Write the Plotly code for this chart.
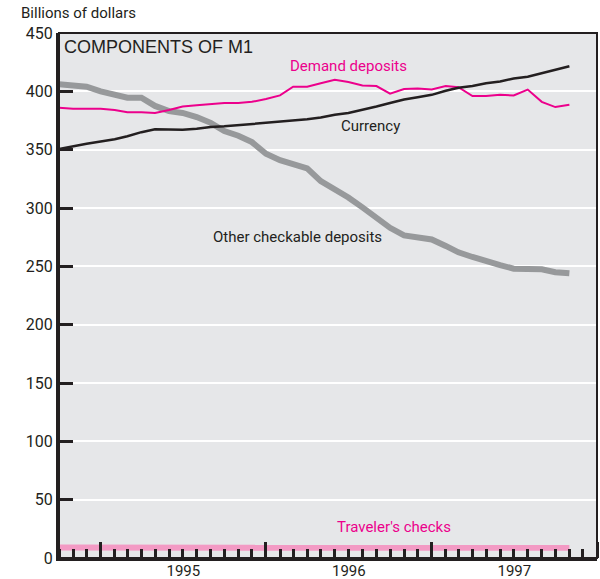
import pandas as pd
import plotly.graph_objects as go

# monthly observations, Oct 1994 .. Nov 1997
months = pd.date_range("1994-10-01", periods=38, freq="MS")

demand_deposits = [386, 385, 385, 385, 384, 382, 382, 381.5, 384, 387, 388, 389, 390, 390,
                   391, 393.5, 396.5, 404, 404, 407, 410, 408, 405, 404.5, 398, 402, 402.5,
                   401.5, 404.5, 403.5, 396, 396, 397, 396.5, 401.5, 391, 386.5, 388.5]
currency = [350.5, 353, 355, 357, 359, 361.5, 365, 367.5, 367, 367, 368, 369.5, 370, 371,
            372, 372.5, 373.5, 375, 376, 377.5, 380, 381.5, 384, 387, 390, 393, 395, 397,
            400.5, 403, 404.5, 407, 408.5, 411, 412.5, 415.5, 418.5, 421.5]
other_checkable = [406, 405, 404, 400, 397, 394.5, 394.5, 387.5, 383, 381.5, 378, 373, 366,
                   362, 356.5, 346.5, 341, 338, 334, 323, 316, 309, 300.5, 292, 283, 276.5,
                   275, 273, 267.5, 262, 258, 254, 251, 248, 248, 247.5, 245, 244]
travelers_checks = [9.0, 9.0, 9.1, 9.1, 9.2, 9.2, 9.2, 9.3, 9.3, 9.3, 9.3, 9.4, 9.4, 9.4,
                    9.4, 9.4, 9.4, 9.4, 9.4, 9.4, 9.4, 9.3, 9.3, 9.3, 9.2, 9.2, 9.1, 9.0,
                    9.0, 8.9, 8.9, 8.8, 8.8, 8.8, 8.7, 8.7, 8.7, 8.7]

NARROW = "Roboto, Liberation Sans, sans-serif"
DARK = "#231f20"
PINK = "#ec008c"

fig = go.Figure()
fig.add_trace(go.Scatter(x=months, y=travelers_checks, mode="lines",
                         line=dict(color="#f39ac4", width=6)))
fig.add_trace(go.Scatter(x=months, y=other_checkable, mode="lines",
                         line=dict(color="#97999b", width=6)))
fig.add_trace(go.Scatter(x=months, y=demand_deposits, mode="lines",
                         line=dict(color=PINK, width=2)))
fig.add_trace(go.Scatter(x=months, y=currency, mode="lines",
                         line=dict(color=DARK, width=2.5)))

labels = [
    ("1996-07-01", 422, "Demand deposits", PINK),
    ("1996-08-18", 370, "Currency", DARK),
    ("1996-03-10", 275, "Other checkable deposits", DARK),
    ("1996-10-10", 26.5, "Traveler's checks", PINK),
]
for x, y, txt, col in labels:
    fig.add_annotation(x=x, y=y, text=txt, showarrow=False,
                       font=dict(family=NARROW, size=15, color=col))

fig.add_annotation(x=-40 / 538, y=1, xref="paper", yref="paper", yshift=31,
                   xanchor="left", yanchor="top", text="Billions of dollars",
                   showarrow=False, font=dict(family=NARROW, size=15, color=DARK))
fig.add_annotation(x=0.006, y=0.997, xref="paper", yref="paper",
                   xanchor="left", yanchor="top", text="COMPONENTS OF M1",
                   showarrow=False,
                   font=dict(family="Liberation Sans, Arial, sans-serif", size=18, color=DARK))

# thinner frame on top / right
fig.add_shape(type="rect", xref="paper", yref="paper", x0=0, y0=0, x1=1, y1=1,
              line=dict(color=DARK, width=2))

fig.update_xaxes(range=["1994-10-01", "1998-01-01"], showgrid=False, automargin=False,
                 showline=True, linecolor=DARK, linewidth=3,
                 ticks="inside", ticklen=16, tickwidth=2.5, tickcolor=DARK,
                 dtick="M12", tick0="1995-01-01", tickformat="%Y",
                 ticklabelmode="period", ticklabelstandoff=-3,
                 tickfont=dict(family=NARROW, size=15, color=DARK),
                 minor=dict(dtick="M1", tick0="1994-10-01", ticks="inside",
                            ticklen=9, tickwidth=2.5, tickcolor=DARK, showgrid=False))
fig.update_yaxes(range=[0, 450], dtick=50, showgrid=True, gridcolor="white", gridwidth=2,
                 zeroline=False, showline=True, linecolor=DARK, linewidth=3, automargin=False,
                 ticks="inside", ticklen=14, tickwidth=2.5, tickcolor=DARK,
                 tickfont=dict(family=NARROW, size=16, color=DARK))

fig.update_layout(width=600, height=579, showlegend=False,
                  margin=dict(l=59, r=3, t=33, b=21),
                  plot_bgcolor="#e6e7e9", paper_bgcolor="white")

fig.write_html("out.html", config={"displayModeBar": False},
               post_script="document.body.style.margin='0px';")
